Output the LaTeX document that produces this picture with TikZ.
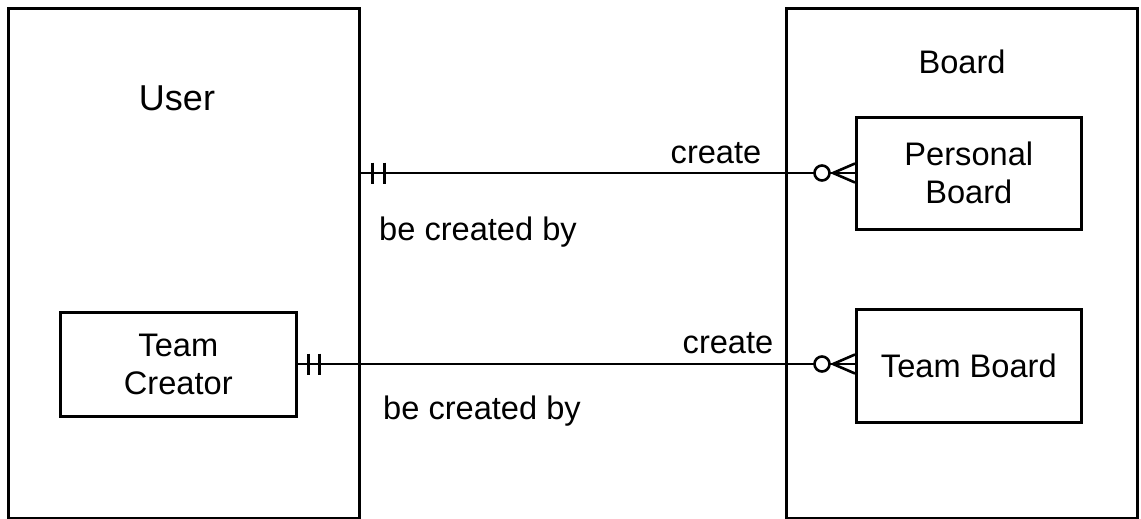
\documentclass[tikz,border=0pt]{standalone}
\usepackage{fontspec}
\setmainfont{Liberation Sans}
\begin{document}
\begin{tikzpicture}[x=1pt,y=-1pt,line width=2.6pt,
  entity/.style={draw,rectangle,inner sep=0pt,align=center,font=\fontsize{32.6}{38}\selectfont},
  lbl/.style={font=\fontsize{32.6}{38}\selectfont,inner sep=0pt},
  rel/.style={line width=2.6pt}]
\useasboundingbox (0,0) rectangle (1141,519);
% outer boxes
\node[entity,minimum width=351pt,minimum height=510pt,anchor=north west] (user) at (7,7) {};
\node[entity,minimum width=351pt,minimum height=510pt,anchor=north west] (board) at (785,7) {};
\node[lbl,font=\fontsize{36}{40}\selectfont] (usertxt) at (177,98) {User};
\node[lbl] (boardtxt) at (962,62) {Board};
% inner boxes
\node[entity,minimum width=225pt,minimum height=112pt,anchor=north west] (pb) at (855,116) {Personal\\Board};
\node[entity,minimum width=225pt,minimum height=113pt,anchor=north west] (tb) at (855,308) {Team Board};
\node[entity,minimum width=236pt,minimum height=104pt,anchor=north west] (tc) at (59,311) {Team\\Creator};
% connector 1
\coordinate (u1) at (user.east |- 0,173);
\coordinate (p1) at (pb.west |- 0,173);
\draw[rel] (u1) -- (p1);
\draw[rel] ([xshift=12pt]u1) ++(0,-10.5) -- ++(0,21);
\draw[rel] ([xshift=24pt]u1) ++(0,-10.5) -- ++(0,21);
\draw[rel] ([xshift=-22pt]p1) -- ([yshift=-9.5pt]p1);
\draw[rel] ([xshift=-22pt]p1) -- ([yshift=9.5pt]p1);
\draw[rel,fill=white] ([xshift=-33pt]p1) circle (7.5pt);
\node[lbl,anchor=base] (c1) at (716,163) {create};
\node[lbl,anchor=base] (b1) at (478,240) {be created by};
% connector 2
\coordinate (u2) at (tc.east |- 0,364);
\coordinate (p2) at (tb.west |- 0,364);
\draw[rel] (u2) -- (p2);
\draw[rel] ([xshift=11pt]u2) ++(0,-10.5) -- ++(0,21);
\draw[rel] ([xshift=22pt]u2) ++(0,-10.5) -- ++(0,21);
\draw[rel] ([xshift=-22pt]p2) -- ([yshift=-9.5pt]p2);
\draw[rel] ([xshift=-22pt]p2) -- ([yshift=9.5pt]p2);
\draw[rel,fill=white] ([xshift=-33pt]p2) circle (7.5pt);
\node[lbl,anchor=base] (c2) at (728,353) {create};
\node[lbl,anchor=base] (b2) at (482,419) {be created by};
\end{tikzpicture}
\end{document}
